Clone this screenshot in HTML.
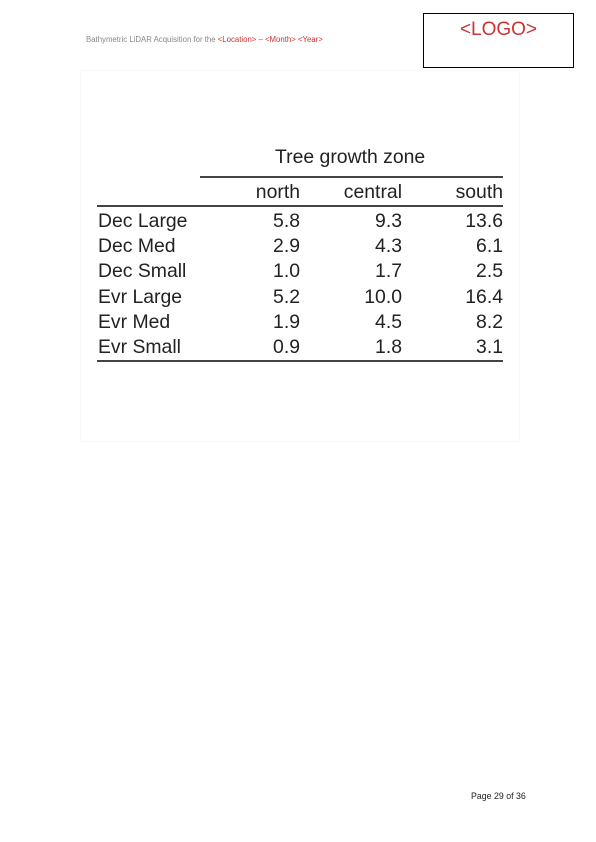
<!DOCTYPE html>
<html><head><meta charset="utf-8"><style>
body{margin:0;width:596px;height:842px;background:#fff;position:relative;font-family:"Liberation Sans",sans-serif;overflow:hidden}
.a{position:absolute;white-space:nowrap}
.t{font-size:19.4px;color:#222;line-height:1}
.ln{position:absolute;height:1.5px;background:#444}
</style></head><body>
<div class="a" style="left:86px;top:35px;font-size:7.8px;color:#888">Bathymetric LiDAR Acquisition for the <span style="color:#c33">&lt;Location&gt; – &lt;Month&gt; &lt;Year&gt;</span></div>
<div class="a" style="left:423px;top:13px;width:149px;height:53px;border:1px solid #000"><div style="text-align:center;color:#c33;font-size:19px;margin-top:5px">&lt;LOGO&gt;</div></div>
<div class="a" style="left:80px;top:70px;width:438px;height:370px;border:1px solid #f8f8f8"></div>
<div id="tbl"></div>
<div class="a" style="left:471px;top:791px;font-size:8.8px;color:#222">Page 29 of 36</div>
<script>
const rowLabels=["Dec Large","Dec Med","Dec Small","Evr Large","Evr Med","Evr Small"];
const colLabels=["north","central","south"];
const north=["5.8","2.9","1.0","5.2","1.9","0.9"];
const central=["9.3","4.3","1.7","10.0","4.5","1.8"];
const south=["13.6","6.1","2.5","16.4","8.2","3.1"];
const cols=[north,central,south];
const T=document.getElementById('tbl');
const colRight=[300,402,503], rowTop0=212, rowH=25.2;
function txt(s,x,y,right){const d=document.createElement('div');d.className='a t';d.textContent=s;d.style.top=y+'px';if(right){d.style.right=(596-x)+'px';}else d.style.left=x+'px';T.appendChild(d);return d;}
function line(x1,x2,y,n){const d=document.createElement('div');d.className='ln';d.style.left=x1+'px';d.style.width=(x2-x1)+'px';d.style.top=y+'px';


T.appendChild(d);}
const ti=txt("Tree growth zone",275,148,false);


line(200,503,176,'title-rule');
colLabels.forEach((c,i)=>{const d=txt(c,colRight[i],183,true);

});
line(97,503,205,'header-rule');
rowLabels.forEach((r,j)=>{const y=rowTop0+j*rowH;
const d=txt(r,98,y,false);


cols.forEach((col,i)=>{const c=txt(col[j],colRight[i],y,true);

});});
line(97,503,rowTop0+rowLabels.length*rowH-3,'bottom-rule');
</script>
</body></html>
